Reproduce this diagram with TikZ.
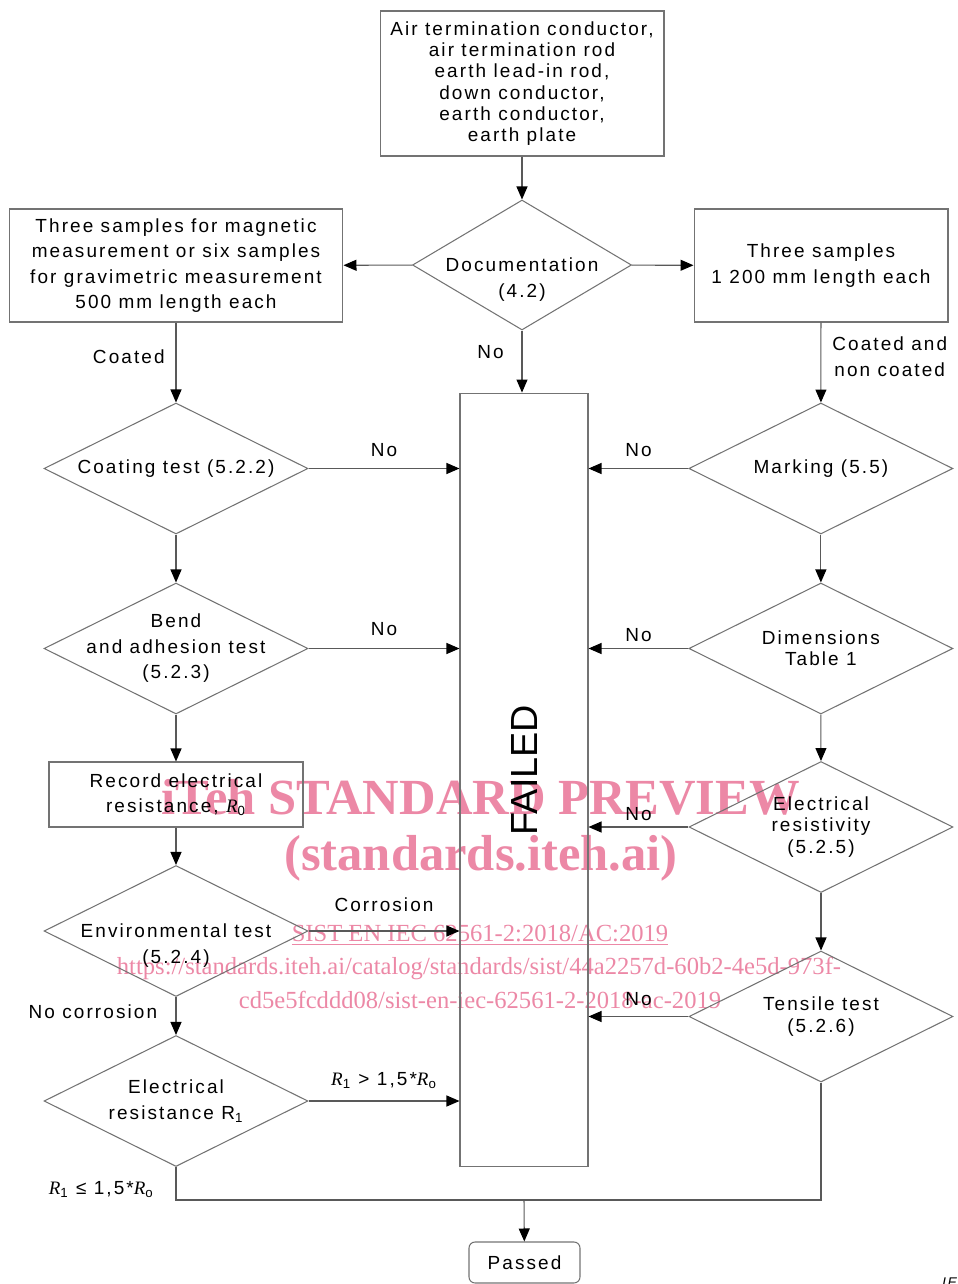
\documentclass[tikz,border=0pt]{standalone}
\usepackage{graphicx}
\usepackage{fontspec}
\setmainfont{Liberation Sans}[LetterSpace=11]
\newfontfamily\plainsans{Liberation Sans}
\newfontfamily\serifwm{Liberation Serif}
\usetikzlibrary{arrows.meta,%
	shapes.geometric}
\definecolor{wmpink}{RGB}{236,136,166}
\newcommand{\Rit}{{\serifwm\itshape R}}

\begin{document}
\begin{tikzpicture}[x=0.02cm,y=-0.02cm,
	every node/.style={font=\fontsize{10.8}{14.5}\selectfont},
	tight/.style={font=\fontsize{10.8}{12.1}\selectfont},
	box/.style={rectangle,draw=black!55,line width=0.6pt,align=center,inner sep=2pt},
	decision/.style={diamond,aspect=2,draw=black!55,line width=0.6pt,align=center,inner sep=-0.5cm,minimum width=5.28cm,minimum height=2.62cm},
	line/.style={draw=black!65,line width=0.6pt},
	arr/.style={line,-{Triangle[length=0.26cm,width=0.22cm,color=black]}},
	watermark/.style={text=wmpink,font=\serifwm\bfseries\fontsize{28.8}{30}\selectfont},
	link/.style={text=wmpink,font=\serifwm\fontsize{14}{16}\selectfont}]
		\useasboundingbox (0,0) rectangle (957,1284);
		\node[watermark] (wmA) at (481,797) {iTeh STANDARD PREVIEW};
		\node[watermark] (wmB) at (481,858) {(standards.iteh.ai)};
		\node[link] (wmC) at (480,935) {\underline{SIST EN IEC 62561-2:2018/AC:2019}};
		\node[link] (wmD) at (479,968) {https://standards.iteh.ai/catalog/standards/sist/44a2257d-60b2-4e5d-973f-};
		\node[link] (wmE) at (480,1000) {cd5e5fcddd08/sist-en-iec-62561-2-2018-ac-2019};

		\node[box,tight,minimum width=5.68cm,minimum height=2.9cm] (src) at (522,83.5) {Air termination conductor,\\air termination rod\\earth lead-in rod,\\down conductor,\\earth conductor,\\earth plate};
		\node[decision,minimum width=4.38cm,minimum height=2.6cm] (doc) at (522,265) {\rule{0pt}{0.86cm}Documentation\\(4.2)};
		\node[box,minimum width=6.68cm,minimum height=2.26cm] (sampA) at (176,265.5) {Three samples for magnetic\\measurement or six samples\\for gravimetric measurement\\500 mm length each};
		\node[box,minimum width=5.08cm,minimum height=2.26cm] (sampB) at (821,265.5) {Three samples\\1~200 mm length each};
		\node[box,minimum width=2.56cm,minimum height=15.48cm] (failed) at (524,780) {\rotatebox{90}{\plainsans\fontsize{21.5}{24}\selectfont\hspace{0.4cm}FAILED}};

		\node[decision] (coat) at (176,468.5) {Coating test (5.2.2)};
		\node[decision] (bend) at (176,648.5) {Bend\\and adhesion test\\(5.2.3)};
		\node[box,minimum width=5.08cm,minimum height=1.3cm] (rec) at (176,794.5) {Record electrical\\resistance, \Rit\textsubscript{0}};
		\node[decision] (env) at (176,931) {\rule{0pt}{0.86cm}Environmental test\\(5.2.4)};
		\node[decision] (elres) at (176,1101) {Electrical\\resistance R\textsubscript{1}};

		\node[decision] (mark) [right of=coat,node distance=12.9cm] {Marking (5.5)};
		\node[decision,tight] (dims) [right of=bend,node distance=12.9cm] {Dimensions\\Table 1};
		\node[decision,tight] (resist) at (821,827) {Electrical\\resistivity\\(5.2.5)};
		\node[decision,tight] (tens) at (821,1016.5) {Tensile test\\(5.2.6)};

		\node[box,rounded corners=0.12cm,minimum width=2.22cm,minimum height=0.82cm] (pass) at (524.5,1262.5) {Passed};
		\node[font=\itshape\fontsize{8}{9}\selectfont,anchor=north west] (iec) at (936,1271) {IEC};
		\coordinate (join) at (524,1200);

		\draw[arr] (src) -- (doc);
		\draw[arr] (doc) -- (sampA);
		\draw[arr] (doc) -- (sampB);
		\draw[arr] (doc.south) -- node[left=0.24cm,pos=0.35] {No} (doc.south |- failed.north);
		\draw[arr] (sampA) -- node[left=0.1cm,pos=0.43] {Coated} (coat);
		\draw[arr] (sampB) -- node[right=0.1cm,pos=0.43,align=center] {Coated and\\non coated} (mark);

		\draw[arr] (coat) -- node[above=0.1cm] {No} (coat -| failed.west);
		\draw[arr] (bend) -- node[above=0.12cm] {No} (bend -| failed.west);
		\draw[arr] (env) -- node[above=0.25cm] {Corrosion} (env -| failed.west);
		\draw[arr] (elres) -- node[above=0.12cm] {\Rit\textsubscript{1} > 1,5*\Rit\textsubscript{o}} (elres -| failed.west);
		\draw[arr] (mark) -- node[above=0.1cm] {No} (mark -| failed.east);
		\draw[arr] (dims) -- node[above] {No} (dims -| failed.east);
		\draw[arr] (resist) -- node[above] {No} (resist -| failed.east);
		\draw[arr] (tens) -- node[above=0.08cm] {No} (tens -| failed.east);

		\draw[arr] (coat) -- (bend);
		\draw[arr] (bend) -- (rec);
		\draw[arr] (rec) -- (env);
		\draw[arr] (env) -- node[left=0.25cm,pos=0.4] {No corrosion} (elres);
		\draw[arr] (mark) -- (dims);
		\draw[arr] (dims) -- (resist);
		\draw[arr] (resist) -- (tens);

		\draw[line] (elres.south) -- (elres.south |- join) node[anchor=south east,xshift=-0.4cm,inner sep=1pt] {\Rit\textsubscript{1} ≤ 1,5*\Rit\textsubscript{o}} -- (tens.south |- join) -- (tens.south);
		\draw[arr] (join) -- (pass);
		\end{tikzpicture}
\end{document}
